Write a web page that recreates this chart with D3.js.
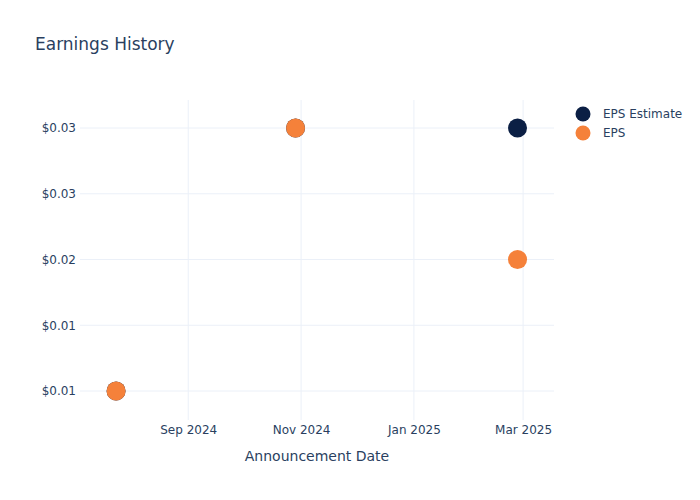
<!DOCTYPE html>
<html>
<head>
<meta charset="utf-8">
<script src="https://cdn.jsdelivr.net/npm/d3@7"></script>
<style>
  body { margin: 0; background: #fff; }
  svg, svg text { font-family: "DejaVu Sans", sans-serif; }
</style>
</head>
<body>
<div id="chart"></div>
<script>
// data
const dates = ['2024-07-24', '2024-10-29', '2025-02-26'];
const epsEstimate = [0.01, 0.03, 0.03];
const eps = [0.01, 0.03, 0.02];
const yTicks = [0.01, 0.015, 0.02, 0.025, 0.03];
const xTicks = ['2024-09-01', '2024-11-01', '2025-01-01', '2025-03-01'];
const seriesNames = ['EPS Estimate', 'EPS'];
const seriesColors = ['#0b1f44', '#f5813a'];

const width = 700, height = 500;
const margin = { top: 100, right: 146, bottom: 80, left: 80 };
const textColor = '#2a3f5f';
const gridColor = '#ebf0f8';

const parse = d3.timeParse('%Y-%m-%d');

const svg = d3.select('#chart').append('svg')
  .attr('width', width)
  .attr('height', height);

const x = d3.scaleTime()
  .domain([new Date(2024, 6, 4, 12), new Date(2025, 2, 17, 17)])
  .range([margin.left, width - margin.right]);

const y = d3.scaleLinear()
  .domain([0.007795, 0.03213])
  .range([height - margin.bottom, margin.top]);

// grid
const grid = svg.append('g');
grid.selectAll('.vgrid').data(xTicks).enter().append('line')
  .attr('x1', d => x(parse(d))).attr('x2', d => x(parse(d)))
  .attr('y1', margin.top).attr('y2', height - margin.bottom)
  .attr('stroke', gridColor).attr('stroke-width', 1);
grid.selectAll('.hgrid').data(yTicks).enter().append('line')
  .attr('x1', margin.left).attr('x2', width - margin.right)
  .attr('y1', d => y(d)).attr('y2', d => y(d))
  .attr('stroke', gridColor).attr('stroke-width', 1);

// axes
const xAxis = d3.axisBottom(x)
  .tickValues(xTicks.map(parse))
  .tickFormat(d3.timeFormat('%b %Y'))
  .tickSize(0).tickPadding(5);
const gx = svg.append('g')
  .attr('transform', `translate(0,${height - margin.bottom})`)
  .call(xAxis);
gx.attr('font-family', null).attr('font-size', null);
gx.select('.domain').remove();
gx.selectAll('text').attr('fill', textColor).style('font-size', '12px');

const yAxis = d3.axisLeft(y)
  .tickValues(yTicks)
  .tickFormat(d3.format('$.2f'))
  .tickSize(0).tickPadding(3);
const gy = svg.append('g')
  .attr('transform', `translate(${margin.left - 1},0)`)
  .call(yAxis);
gy.attr('font-family', null).attr('font-size', null);
gy.select('.domain').remove();
gy.selectAll('text').attr('fill', textColor).style('font-size', '12px');

// markers
const series = [epsEstimate, eps];
series.forEach((vals, s) => {
  svg.append('g').selectAll('circle')
    .data(vals.map((v, i) => ({ date: parse(dates[i]), v: v })))
    .enter().append('circle')
    .attr('cx', d => x(d.date))
    .attr('cy', d => y(d.v))
    .attr('r', 9.5)
    .attr('fill', seriesColors[s]);
});

// title
svg.append('text')
  .attr('x', 35).attr('y', 50)
  .attr('fill', textColor)
  .style('font-size', '17px')
  .text('Earnings History');

svg.append('text')
  .attr('x', (margin.left + width - margin.right) / 2)
  .attr('y', 461)
  .attr('text-anchor', 'middle')
  .attr('fill', textColor)
  .style('font-size', '14px')
  .text('Announcement Date');

// legend
const legend = svg.append('g');
seriesNames.forEach((name, i) => {
  legend.append('circle')
    .attr('cx', 583).attr('cy', 114 + i * 19)
    .attr('r', 7.5)
    .attr('fill', seriesColors[i]);
  legend.append('text')
    .attr('x', 603).attr('y', 118 + i * 19)
    .attr('fill', textColor)
    .style('font-size', '12px')
    .text(name);
});
</script>
</body>
</html>
